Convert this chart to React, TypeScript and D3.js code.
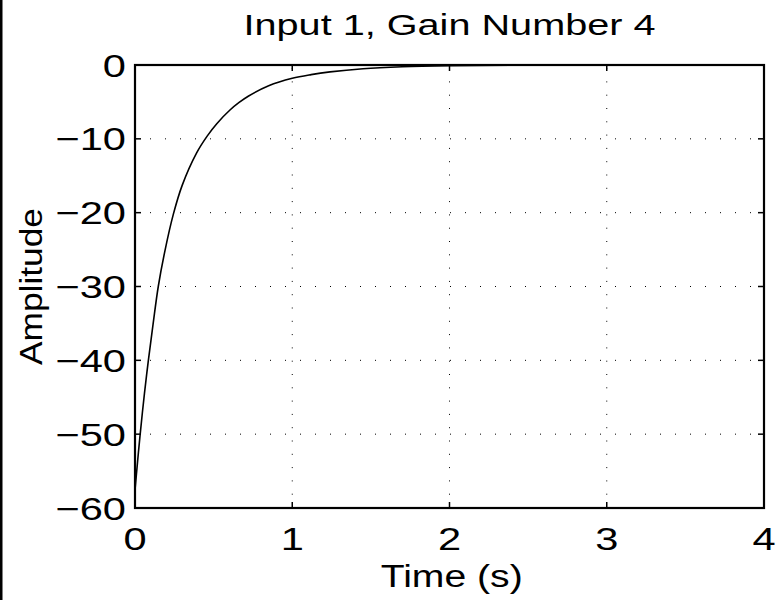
import React from "react";
import * as d3 from "d3";

const timeValues = [0, 0.016, 0.032, 0.06, 0.085, 0.115, 0.148, 0.19, 0.244, 0.3, 0.392, 0.46, 0.52, 0.604, 0.66, 0.72, 0.85, 1.0, 1.12, 1.24, 1.45, 1.7, 2.0, 2.4, 3.0, 4.0];
const amplitudeValues = [-57.6, -53.8, -50.2, -44.5, -40, -35.1, -30, -25.2, -20.2, -16.3, -11.9, -9.6, -7.95, -6.1, -5.11, -4.23, -2.81, -1.8, -1.3, -0.93, -0.5, -0.24, -0.1, -0.03, -0.005, 0];
const xTicks = [0, 1, 2, 3, 4];
const yTicks = [0, -10, -20, -30, -40, -50, -60];
const titleText = "Input 1, Gain Number 4";
const xLabel = "Time (s)";
const yLabel = "Amplitude";

const W = 778;
const H = 600;
const left = 135;
const right = 764;
const top = 65;
const bottom = 508;
const FONT = "'Liberation Sans', Arial, Helvetica, sans-serif";
const SX = 1.3;

export default function App() {
  const x = d3.scaleLinear().domain([0, 4]).range([left, right]);
  const y = d3.scaleLinear().domain([-60, 0]).range([bottom, top]);
  const pts = timeValues.map((t, i) => [t, amplitudeValues[i]] as [number, number]);
  const line = d3
    .line<[number, number]>()
    .x((d) => x(d[0]))
    .y((d) => y(d[1]))
    .curve(d3.curveCatmullRom.alpha(0.5));
  const tick = 6;

  return (
    <svg
      width={W}
      height={H}
      style={{ position: "fixed", left: 0, top: 0, background: "#fff" }}
      fontFamily={FONT}
    >
      <rect x={0} y={0} width={W} height={H} fill="#fff" />
      <rect x={0} y={0} width={2.5} height={H} fill="#000" />

      {/* grid */}
      {xTicks
        .filter((t) => t !== 0 && t !== 4)
        .map((t) => (
          <line
            key={"gx" + t}
            x1={x(t)}
            x2={x(t)}
            y1={bottom}
            y2={top}
            stroke="#000"
            strokeWidth={1}
            strokeDasharray="1,12.3"
          />
        ))}
      {yTicks
        .filter((t) => t !== 0 && t !== -60)
        .map((t) => (
          <line
            key={"gy" + t}
            x1={left}
            x2={right}
            y1={y(t)}
            y2={y(t)}
            stroke="#000"
            strokeWidth={1}
            strokeDasharray="1,14"
          />
        ))}

      {/* curve */}
      <path d={line(pts) || ""} fill="none" stroke="#000" strokeWidth={1.6} />

      {/* ticks */}
      {xTicks.map((t) => (
        <g key={"tx" + t}>
          <line x1={x(t)} x2={x(t)} y1={bottom} y2={bottom - tick} stroke="#000" strokeWidth={1.5} />
          <line x1={x(t)} x2={x(t)} y1={top} y2={top + tick} stroke="#000" strokeWidth={1.5} />
          <text
            transform={`translate(${x(t)},550) scale(${SX},1)`}
            textAnchor="middle"
            fontSize={32}
            fill="#000"
          >
            {String(t)}
          </text>
        </g>
      ))}
      {yTicks.map((t) => (
        <g key={"ty" + t}>
          <line x1={left} x2={left + tick} y1={y(t)} y2={y(t)} stroke="#000" strokeWidth={1.5} />
          <line x1={right} x2={right - tick} y1={y(t)} y2={y(t)} stroke="#000" strokeWidth={1.5} />
          <text
            transform={`translate(126,${y(t) + 11.5}) scale(${SX},1)`}
            textAnchor="end"
            fontSize={32}
            fill="#000"
          >
            {t < 0 ? "\u2212" + String(-t) : String(t)}
          </text>
        </g>
      ))}

      {/* axes box */}
      <rect
        x={left}
        y={top}
        width={right - left}
        height={bottom - top}
        fill="none"
        stroke="#000"
        strokeWidth={2.2}
      />

      {/* labels */}
      <text
        x={(left + right) / 2}
        y={35}
        textAnchor="middle"
        fontSize={30}
        fill="#000"
        textLength={412}
        lengthAdjust="spacingAndGlyphs"
      >
        {titleText}
      </text>
      <text
        x={451.7}
        y={587.3}
        textAnchor="middle"
        fontSize={31}
        fill="#000"
        textLength={142}
        lengthAdjust="spacingAndGlyphs"
      >
        {xLabel}
      </text>
      <text
        transform={`translate(41.5,${(top + bottom) / 2}) rotate(-90)`}
        textAnchor="middle"
        fontSize={31}
        fill="#000"
        textLength={157}
        lengthAdjust="spacingAndGlyphs"
      >
        {yLabel}
      </text>
    </svg>
  );
}
